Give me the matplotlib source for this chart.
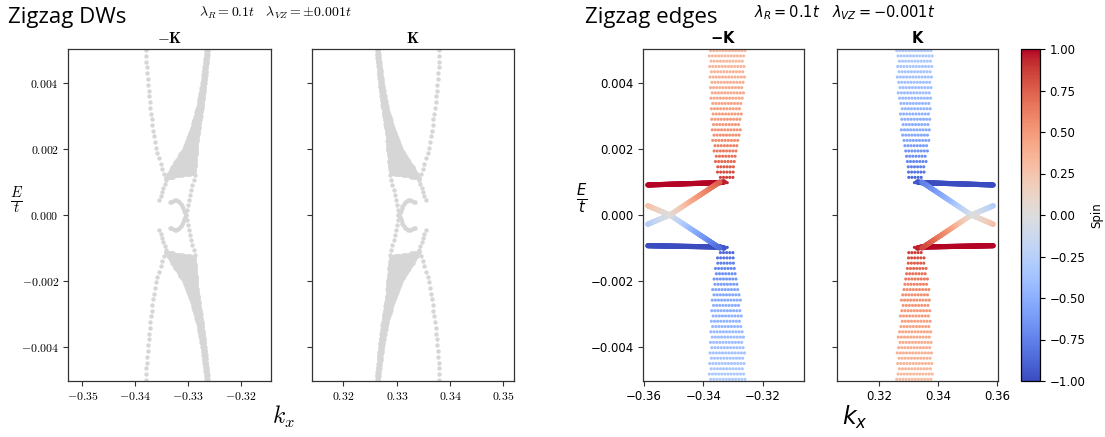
import numpy as np
import matplotlib
matplotlib.use('Agg')
import matplotlib.pyplot as plt
from matplotlib.ticker import FuncFormatter, FixedLocator
from matplotlib.colors import Normalize
from matplotlib.cm import ScalarMappable

plt.rcParams['mathtext.fontset'] = 'cm'

# ------------------------------------------------------------------
# Data (upper half E>0 of the -K valley;
# lower half is the E-mirror, K valley is the k-mirror)
# ------------------------------------------------------------------
# Zigzag DWs, -K valley
dw_outer_k = [-0.3380, -0.3379, -0.3377, -0.3372, -0.3366, -0.3358, -0.3347, -0.3341]
dw_outer_E = [0.00500, 0.00460, 0.00419, 0.00328, 0.00258, 0.00187, 0.00131, 0.00111]

dw_wedge_E = [0.00112, 0.00126, 0.00157, 0.00197, 0.00258, 0.00328, 0.00409, 0.00500]
dw_wedge_left = [-0.3341, -0.3336, -0.3325, -0.3309, -0.3294, -0.3281, -0.3272, -0.3265]
dw_wedge_right = [-0.3341, -0.3287, -0.3286, -0.3284, -0.3280, -0.3273, -0.3267, -0.3262]

dw_inner_left_k = [-0.3341, -0.3350, -0.3354]
dw_inner_left_E = [0.00106, 0.00071, 0.00045]
dw_inner_right_k = [-0.3287, -0.3294, -0.3300, -0.3303]
dw_inner_right_E = [0.00121, 0.00076, 0.00035, 0.00000]
dw_hook_k = [-0.3335, -0.3322, -0.3311, -0.3306]
dw_hook_E = [0.00038, 0.00047, 0.00030, 0.00005]

# Zigzag edges, -K valley: bulk envelope and spin
edge_bulk_E = [0.00098, 0.00106, 0.00146, 0.00227, 0.00379, 0.00500]
edge_bulk_left = [-0.3341, -0.3346, -0.3357, -0.3369, -0.3376, -0.3381]
edge_bulk_right = [-0.3318, -0.3297, -0.3289, -0.3278, -0.3264, -0.3258]
edge_bulk_spin = [0.95, 0.90, 0.75, 0.55, 0.40, 0.30]

# edge-state lines (k knots, E knots, spin knots)
edge_red_k = [-0.3587, -0.3345, -0.3330]
edge_red_E = [0.00091, 0.00098, 0.00100]
edge_red_s = [1.0, 1.0, 0.95]
edge_blue_k = [-0.3587, -0.3345, -0.3330]
edge_blue_E = [-0.00093, -0.00097, -0.00100]
edge_blue_s = [-1.0, -1.0, -0.95]
cross1_k = [-0.3587, -0.3513, -0.3429, -0.3345]
cross1_E = [0.00028, 0.00000, -0.00050, -0.00100]
cross1_s = [0.30, 0.00, -0.50, -0.85]
cross2_k = [-0.3587, -0.3513, -0.3429, -0.3345]
cross2_E = [-0.00028, 0.00000, 0.00050, 0.00100]
cross2_s = [-0.30, 0.00, 0.45, 0.75]

# axes / ticks
dw_xlim_mK = (-0.3527, -0.3143)
dw_xlim_K = (0.3141, 0.3520)
edge_xlim_mK = (-0.3603, -0.3062)
edge_xlim_K = (0.3058, 0.3603)
ylim = (-0.00503, 0.00503)
yticks = [-0.004, -0.002, 0.0, 0.002, 0.004]
dw_xticks_mK = [-0.35, -0.34, -0.33, -0.32]
dw_xticks_K = [0.32, 0.33, 0.34, 0.35]
edge_xticks_mK = [-0.36, -0.34, -0.32]
edge_xticks_K = [0.32, 0.34, 0.36]
cbar_ticks = [-1.0, -0.75, -0.5, -0.25, 0.0, 0.25, 0.5, 0.75, 1.0]


# ------------------------------------------------------------------
def along(kk, EE, n, ss=None):
    kk = np.asarray(kk, float); EE = np.asarray(EE, float)
    d = np.r_[0, np.cumsum(np.hypot(np.diff(kk) / 0.0384, np.diff(EE) / 0.01))]
    t = np.linspace(0, d[-1], n)
    out = [np.interp(t, d, kk), np.interp(t, d, EE)]
    if ss is not None:
        out.append(np.interp(t, d, ss))
    return out


def fill_rows(Eknots, left, right, dE, dk, spin=None):
    ks, Es, ss = [], [], []
    rows = np.arange(Eknots[0], Eknots[-1] + 1e-9, dE)
    for i, e in enumerate(rows):
        l = np.interp(e, Eknots, left); r = np.interp(e, Eknots, right)
        off = (i % 2) * dk / 2
        kr = np.arange(l + off, r + 1e-9, dk)
        if len(kr) == 0:
            kr = np.array([l])
        ks.extend(kr); Es.extend([e] * len(kr))
        if spin is not None:
            ss.extend([np.interp(e, Eknots, spin)] * len(kr))
    return np.array(ks), np.array(Es), np.array(ss)


# DW (-K) points
parts_k, parts_E = [], []
k, E = along(dw_outer_k, dw_outer_E, 24); parts_k.append(k); parts_E.append(E)
k, E, _ = fill_rows(dw_wedge_E, dw_wedge_left, dw_wedge_right, 0.00004, 0.00022)
parts_k.append(k); parts_E.append(E)
for kk_, EE_, n in [(dw_inner_left_k, dw_inner_left_E, 6),
                    (dw_inner_right_k, dw_inner_right_E, 9),
                    (dw_hook_k, dw_hook_E, 12)]:
    k, E = along(kk_, EE_, n); parts_k.append(k); parts_E.append(E)
dwk = np.concatenate(parts_k); dwE = np.concatenate(parts_E)
dwk = np.r_[dwk, dwk]; dwE = np.r_[dwE, -dwE]

# Edge (-K) points
bk, bE, bs = fill_rows(edge_bulk_E, edge_bulk_left, edge_bulk_right, 0.00016, 0.00105, edge_bulk_spin)
bulk_k = np.r_[bk, bk]; bulk_E = np.r_[bE, -bE]; bulk_s = np.r_[bs, -bs]
line_k, line_E, line_s = [], [], []
for kk_, EE_, ss_ in [(edge_red_k, edge_red_E, edge_red_s), (edge_blue_k, edge_blue_E, edge_blue_s),
                      (cross1_k, cross1_E, cross1_s), (cross2_k, cross2_E, cross2_s)]:
    k, E, s = along(kk_, EE_, 140, ss_)
    line_k.append(k); line_E.append(E); line_s.append(s)
line_k = np.concatenate(line_k); line_E = np.concatenate(line_E); line_s = np.concatenate(line_s)

# ------------------------------------------------------------------
W, H = 1105, 437
fig = plt.figure(figsize=(W / 100, H / 100), dpi=100)


def rect(x0, x1, y0=49, y1=381):
    return [x0 / W, 1 - y1 / H, (x1 - x0) / W, (y1 - y0) / H]


ax1 = fig.add_axes(rect(68, 271))
ax2 = fig.add_axes(rect(312, 514))
ax3 = fig.add_axes(rect(643, 804))
ax4 = fig.add_axes(rect(837, 998))
cax = fig.add_axes(rect(1021, 1040))

gray = '#d6d6d6'
ax1.scatter(dwk, dwE, s=10, color=gray, linewidths=0)
ax2.scatter(-dwk, dwE, s=10, color=gray, linewidths=0)

cmap = plt.get_cmap('coolwarm')
norm = Normalize(-1, 1)
ax3.scatter(bulk_k, bulk_E, c=bulk_s, cmap=cmap, norm=norm, s=5, linewidths=0)
ax3.scatter(line_k, line_E, c=line_s, cmap=cmap, norm=norm, s=14, linewidths=0)
ax4.scatter(-bulk_k, bulk_E, c=-bulk_s, cmap=cmap, norm=norm, s=5, linewidths=0)
ax4.scatter(-line_k, line_E, c=-line_s, cmap=cmap, norm=norm, s=14, linewidths=0)

mathfmt_y = FuncFormatter(lambda v, p: r'$%.3f$' % (0.0 if abs(v) < 1e-12 else v))
mathfmt_x = FuncFormatter(lambda v, p: r'$%.2f$' % v)
plainfmt_y = FuncFormatter(lambda v, p: ('%.3f' % (0.0 if abs(v) < 1e-12 else v)).replace('-', '\u2212'))
plainfmt_x = FuncFormatter(lambda v, p: ('%.2f' % v).replace('-', '\u2212'))

for ax, xl, xt in [(ax1, dw_xlim_mK, dw_xticks_mK), (ax2, dw_xlim_K, dw_xticks_K),
                   (ax3, edge_xlim_mK, edge_xticks_mK), (ax4, edge_xlim_K, edge_xticks_K)]:
    ax.set_xlim(*xl); ax.set_ylim(*ylim)
    ax.xaxis.set_major_locator(FixedLocator(xt))
    ax.yaxis.set_major_locator(FixedLocator(yticks))
    for sp in ax.spines.values():
        sp.set_linewidth(0.9); sp.set_color('#333333')
    ax.tick_params(length=3.5, width=0.8, color='#333333', labelsize=8.5, pad=3)

for ax in (ax1, ax2):
    ax.xaxis.set_major_formatter(mathfmt_x)
ax1.yaxis.set_major_formatter(mathfmt_y)
ax2.set_yticklabels([])
ax3.yaxis.set_major_formatter(plainfmt_y)
ax3.xaxis.set_major_formatter(plainfmt_x)
ax4.xaxis.set_major_formatter(plainfmt_x)
ax4.set_yticklabels([])

# titles
ax1.set_title(r'$\mathbf{-K}$', fontsize=11, pad=4)
ax2.set_title(r'$\mathbf{K}$', fontsize=11, pad=4)
ax3.set_title(r'$\mathbf{-K}$', fontsize=10.5, pad=4, math_fontfamily='dejavusans')
ax4.set_title(r'$\mathbf{K}$', fontsize=10.5, pad=4, math_fontfamily='dejavusans')

fig.text(8 / W, 1 - 18 / H, 'Zigzag DWs', fontsize=16, family='Open Sans', va='center', ha='left')
fig.text(585 / W, 1 - 18 / H, 'Zigzag edges', fontsize=16, family='Open Sans', va='center', ha='left')
fig.text(275 / W, 1 - 13 / H, r'$\lambda_R = 0.1t \quad \lambda_{VZ} = \pm 0.001t$', fontsize=10,
         ha='center', va='center')
fig.text(845 / W, 1 - 13 / H, r'$\lambda_R = 0.1t \quad \lambda_{VZ} = -0.001t$', fontsize=10.5,
         ha='center', va='center', math_fontfamily='dejavusans')

fig.text(17 / W, 1 - 200 / H, r'$\frac{E}{t}$', fontsize=15, ha='center', va='center')
fig.text(582 / W, 1 - 198 / H, r'$\frac{E}{t}$', fontsize=15, ha='center', va='center',
         math_fontfamily='dejavusans')
fig.text(283 / W, 1 - 417 / H, r'$k_x$', fontsize=17, ha='center', va='center')
fig.text(855 / W, 1 - 417 / H, r'$k_x$', fontsize=17, ha='center', va='center',
         math_fontfamily='dejavusans')

cb = fig.colorbar(ScalarMappable(norm=norm, cmap=cmap), cax=cax, ticks=cbar_ticks)
cb.ax.yaxis.set_major_formatter(plainfmt_x)
cb.ax.tick_params(labelsize=8.5, length=3.5, width=0.8)
cb.outline.set_linewidth(0.9)
cb.set_label('Spin', fontsize=8.5, labelpad=3)

fig.savefig('out.png', dpi=100)
